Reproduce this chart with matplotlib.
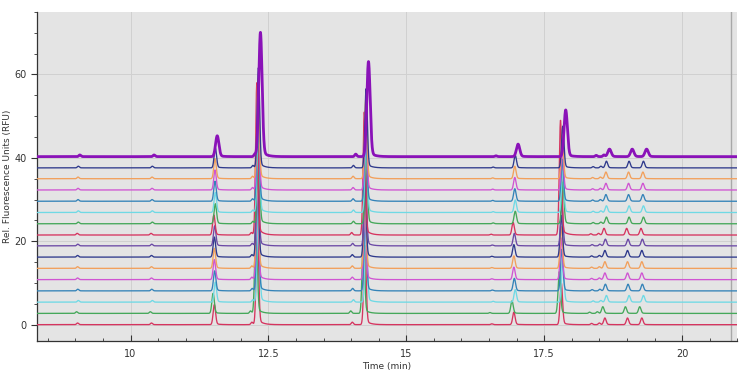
import numpy as np
import matplotlib
matplotlib.use('Agg')
from matplotlib import pyplot as plt
from matplotlib.ticker import MultipleLocator, FixedLocator

# retention times (min) of the main peaks in the bottom trace
peak_times = [11.52, 12.30, 14.25, 16.95, 17.81, 18.60, 19.01, 19.27]
# peak heights (RFU) for a typical thin trace
peak_heights = [4.8, 24.0, 19.0, 3.0, 10.0, 1.6, 1.6, 1.6]
# small bumps: times and heights
minor_times = [9.04, 10.38, 12.20, 14.02, 16.55, 18.36, 18.50]
minor_heights = [0.4, 0.4, 0.6, 0.6, 0.2, 0.3, 0.4]

# baselines of the 16 stacked runs (bottom to top)
offsets = [0.0, 2.7, 5.4, 8.1, 10.8, 13.5, 16.2, 18.9,
           21.5, 24.2, 26.9, 29.6, 32.3, 35.0, 37.6, 40.3]
# relative drift of retention time per run (percent)
drift = [0.0, -0.2, 0.15, 0.05, 0.0, 0.0, 0.0, 0.05,
         -0.08, 0.15, 0.15, 0.1, 0.1, 0.1, 0.15, 0.45]
colors = ['#d6345f', '#45a85a', '#6fd9e4', '#3483b8', '#d055d2', '#f2a05c', '#2f3a8c', '#6c4aa6',
          '#d6345f', '#45a85a', '#6fd9e4', '#3483b8', '#d055d2', '#f2a05c', '#2f3a8c', '#8a12b8']

# runs whose peaks differ from the typical heights (index -> heights)
special_heights = {
    8: [4.8, 36.5, 29.5, 3.0, 27.5, 1.6, 1.6, 1.6],
    15: [5.0, 29.8, 22.8, 3.0, 11.2, 1.8, 1.8, 1.8],
}

t = np.arange(8.3, 21.0, 0.002)


def peak(t, t0, h, sig):
    g = np.exp(-0.5 * ((t - t0) / sig) ** 2)
    tail = np.where(t > t0, np.exp(-(t - t0) / 0.08), 0.0) * (1 - g)
    return h * (g + 0.06 * tail)


fig = plt.figure(figsize=(7.5, 3.73), dpi=100)
ax = fig.add_axes([0.049, 0.086, 0.934, 0.882])
ax.set_facecolor('#e4e4e4')

for i, off in enumerate(offsets):
    heights = special_heights.get(i, peak_heights)
    f = 1 + drift[i] / 100.0
    wide = i == len(offsets) - 1
    sig = 0.03 if wide else 0.022
    y = np.full_like(t, off)
    for t0, h in zip(peak_times, heights):
        y += peak(t, t0 * f, h, sig)
    for t0, h in zip(minor_times, minor_heights):
        y += peak(t, t0 * f, h, 0.018)
    ax.plot(t, y, color=colors[i], lw=2.0 if wide else 0.95, zorder=3 + i * 0.01)

ax.axvline(20.88, color='#a8a8a8', lw=1.0, zorder=2)

ax.set_xlim(8.3, 21.0)
ax.set_ylim(-3.9, 75)
ax.xaxis.set_major_locator(FixedLocator([10, 12.5, 15, 17.5, 20]))
ax.set_xticklabels(['10', '12.5', '15', '17.5', '20'])
ax.xaxis.set_minor_locator(MultipleLocator(0.5))
ax.yaxis.set_major_locator(MultipleLocator(20))
ax.yaxis.set_minor_locator(MultipleLocator(5))
ax.grid(True, which='major', color='#d0d0d0', lw=0.7, zorder=1)

for s in ['top', 'right']:
    ax.spines[s].set_visible(False)
for s in ['left', 'bottom']:
    ax.spines[s].set_color('#333333')
    ax.spines[s].set_linewidth(0.9)

ax.tick_params(axis='x', which='both', direction='in', labelsize=7, colors='#333333', pad=6)
ax.tick_params(axis='x', which='major', length=4)
ax.tick_params(axis='x', which='minor', length=2.5)
ax.tick_params(axis='y', which='both', direction='out', labelsize=7, colors='#333333')
ax.tick_params(axis='y', which='major', length=4)
ax.tick_params(axis='y', which='minor', length=2)

ax.set_xlabel('Time (min)', fontsize=6.5, color='#333333', labelpad=2)
ax.set_ylabel('Rel. Fluorescence Units (RFU)', fontsize=6.5, color='#333333')
ax.yaxis.set_label_coords(-0.036, 0.5)

fig.savefig('out.png', dpi=100, facecolor='white')
